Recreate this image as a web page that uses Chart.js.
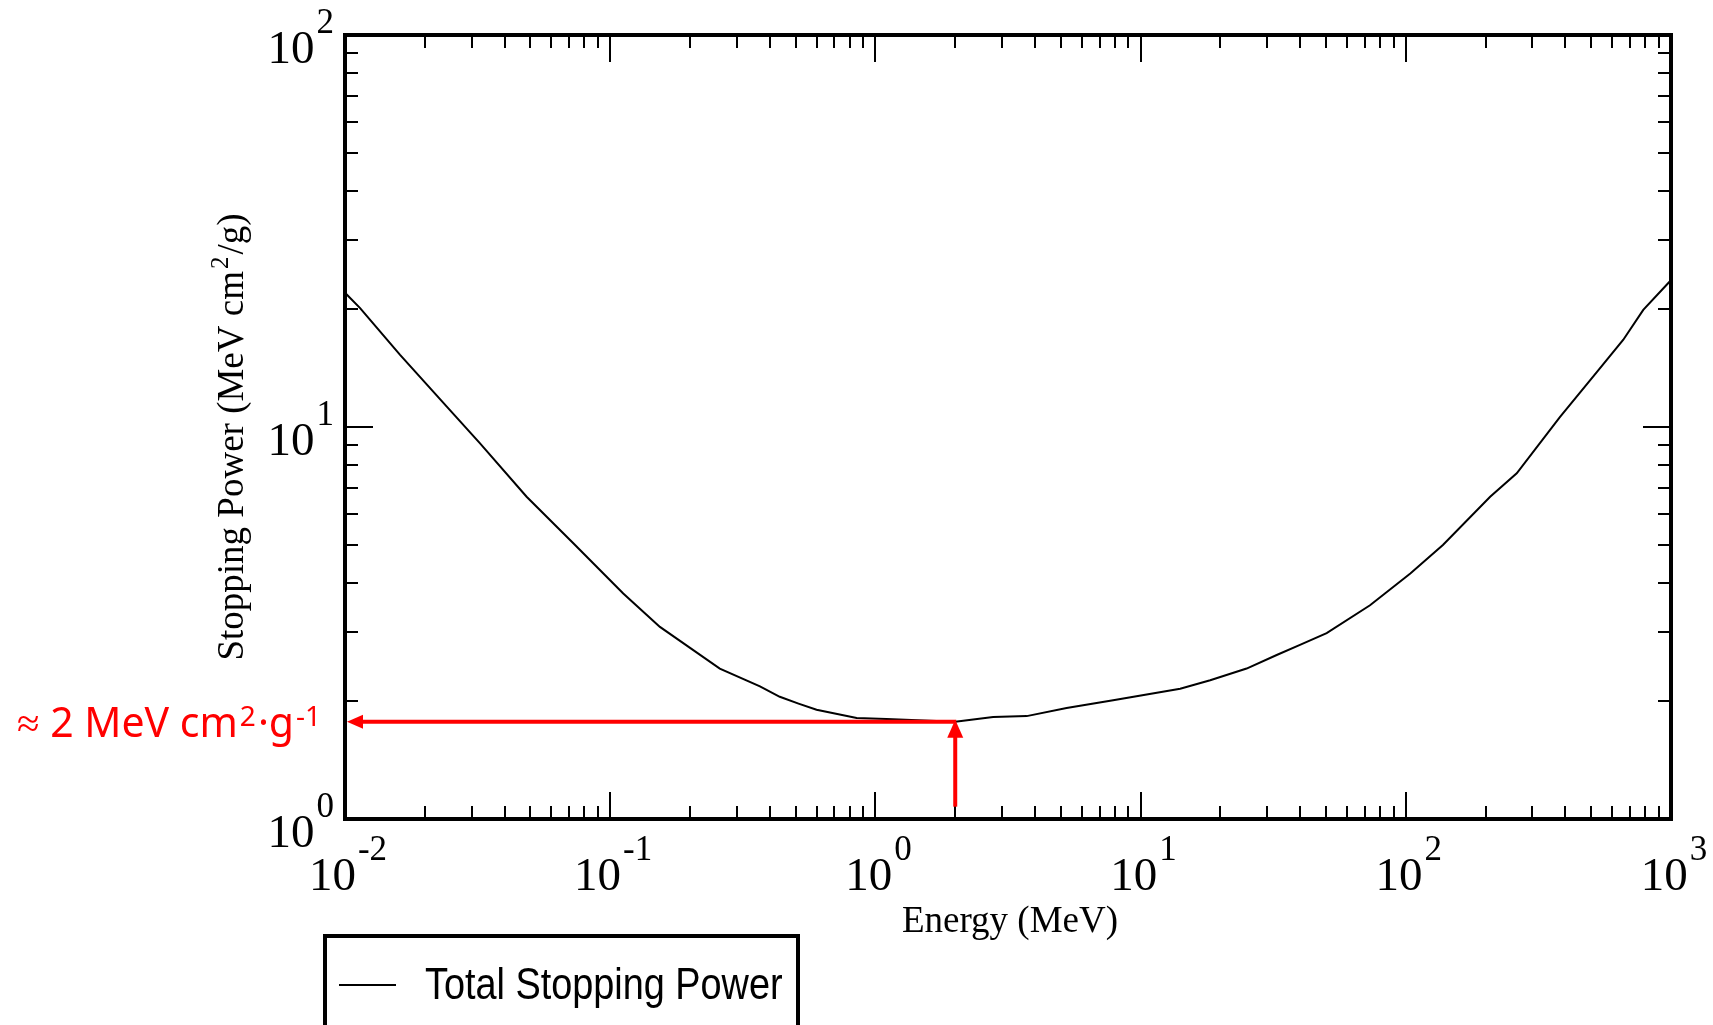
<!DOCTYPE html>
<html>
<head>
<meta charset="utf-8">
<script src="https://cdn.jsdelivr.net/npm/chart.js@4/dist/chart.umd.min.js"></script>
<style>
  html,body{margin:0;padding:0;background:#fff;}
  canvas{display:block;}
</style>
</head>
<body>
<canvas id="chart" width="1713" height="1025"></canvas>
<script>
// values
var energy=[0.01,0.0114,0.0161,0.0242,0.0323,0.0484,0.0726,0.112,0.154,0.259,0.367,0.436,0.513,0.600,0.850,1.10,2.0,2.78,3.72,5.26,7.88,14.1,18.3,25.1,32.6,39.9,50.3,73.3,104,138,208,262,381,525,661,786,977,1000]
var stoppingPower=[22.0,20.1,15.3,11.27,9.08,6.64,5.05,3.76,3.09,2.42,2.18,2.05,1.97,1.90,1.81,1.80,1.77,1.82,1.83,1.92,2.01,2.15,2.26,2.42,2.62,2.78,2.98,3.51,4.23,5.00,6.64,7.62,10.6,13.8,16.7,19.9,23.3,23.7]
var xDecades=[-2,-1,0,1,2,3]
var yDecades=[0,1,2]
var seriesLabel="Total Stopping Power"
var xTitle="Energy (MeV)"
var yTitle=["Stopping Power (MeV cm","2","/g)"]
var noteEnergy=2.0
var notePower=1.77
var noteStart=1.075
var noteText=["≈ 2 MeV cm","2","·g","-1"]

var points=energy.map(function(e,i){return {x:e,y:stoppingPower[i]}})

function line(ctx,x1,y1,x2,y2){
  ctx.beginPath(); ctx.moveTo(x1,y1); ctx.lineTo(x2,y2); ctx.stroke()
}

function power(ctx,exp,x,base,align){
  ctx.font='47px "Liberation Serif"'
  var w1=ctx.measureText('10').width
  ctx.font='35px "Liberation Serif"'
  var w2=ctx.measureText(exp).width
  var w=w1+w2+2
  var left=align=='center'?x-w/2:x-w
  ctx.font='47px "Liberation Serif"'
  ctx.fillText('10',left,base)
  ctx.font='35px "Liberation Serif"'
  ctx.fillText(exp,left+w1+2,base-30)
}

var frame={
  id:'frame',
  afterDraw:function(chart){
    var ctx=chart.ctx, a=chart.chartArea, xs=chart.scales.x, ys=chart.scales.y
    ctx.save()
    ctx.strokeStyle='#000'
    ctx.fillStyle='#000'
    ctx.lineWidth=2
    ctx.textAlign='left'
    ctx.textBaseline='alphabetic'

    // inward ticks on all four sides
    xDecades.forEach(function(d,i){
      for(var k=1;k<10;k++){
        if(k>1 && i==xDecades.length-1) break
        var px=Math.round(xs.getPixelForValue(k*Math.pow(10,d)))
        var len=k==1?27:13
        line(ctx,px,a.bottom,px,a.bottom-len)
        line(ctx,px,a.top,px,a.top+len)
      }
      power(ctx,String(d),xs.getPixelForValue(Math.pow(10,d))+3,890,'center')
    })
    yDecades.forEach(function(d,i){
      for(var k=1;k<10;k++){
        if(k>1 && i==yDecades.length-1) break
        var py=Math.round(ys.getPixelForValue(k*Math.pow(10,d)))
        var len=k==1?28:13
        line(ctx,a.left,py,a.left+len,py)
        line(ctx,a.right,py,a.right-len,py)
      }
      power(ctx,String(d),334,ys.getPixelForValue(Math.pow(10,d))+28,'right')
    })

    ctx.lineWidth=4
    ctx.strokeRect(a.left,a.top,a.right-a.left,a.bottom-a.top)

    // axis titles
    ctx.font='37px "Liberation Serif"'
    ctx.textAlign='center'
    ctx.fillText(xTitle,(a.left+a.right)/2+2,932)
    ctx.textAlign='left'
    ctx.save()
    ctx.translate(243,437)
    ctx.rotate(-Math.PI/2)
    ctx.font='37px "Liberation Serif"'
    var t1=ctx.measureText(yTitle[0]).width, t3=ctx.measureText(yTitle[2]).width
    ctx.font='25px "Liberation Serif"'
    var t2=ctx.measureText(yTitle[1]).width+4
    var sx=-(t1+t2+t3)/2
    ctx.font='37px "Liberation Serif"'
    ctx.fillText(yTitle[0],sx,0)
    ctx.fillText(yTitle[2],sx+t1+t2,0)
    ctx.font='25px "Liberation Serif"'
    ctx.fillText(yTitle[1],sx+t1+2,-15)
    ctx.restore()

    // legend box
    var ds=chart.data.datasets[0]
    ctx.lineWidth=4
    ctx.strokeRect(325,936,473,120)
    ctx.strokeStyle=ds.borderColor
    ctx.lineWidth=2
    line(ctx,339,985,396,985)
    ctx.save()
    ctx.translate(425,999)
    ctx.scale(0.86,1)
    ctx.font='44px "Liberation Sans"'
    ctx.fillText(ds.label,0,0)
    ctx.restore()

    // red note
    var px=xs.getPixelForValue(noteEnergy), py=ys.getPixelForValue(notePower), pb=ys.getPixelForValue(noteStart)
    ctx.strokeStyle='#ff0000'
    ctx.fillStyle='#ff0000'
    ctx.lineWidth=4
    line(ctx,px+1,py,a.left+16,py)
    ctx.beginPath()
    ctx.moveTo(a.left+2,py); ctx.lineTo(a.left+18,py-7); ctx.lineTo(a.left+18,py+7); ctx.closePath(); ctx.fill()
    line(ctx,px,pb,px,py+14)
    ctx.beginPath()
    ctx.moveTo(px,py-2); ctx.lineTo(px-8,py+16); ctx.lineTo(px+8,py+16); ctx.closePath(); ctx.fill()

    var x=17, base=737
    ctx.font='41px "Noto Sans"'
    ctx.fillText(noteText[0],x,base); x+=ctx.measureText(noteText[0]).width+2
    ctx.font='28px "Noto Sans"'
    ctx.fillText(noteText[1],x,base-11); x+=ctx.measureText(noteText[1]).width+2
    ctx.font='41px "Noto Sans"'
    ctx.fillText(noteText[2],x,base); x+=ctx.measureText(noteText[2]).width+2
    ctx.font='28px "Noto Sans"'
    ctx.fillText(noteText[3],x,base-11)
    ctx.restore()
  }
}

var mychart=document.getElementById("chart").getContext('2d')
var chart=new Chart(mychart,{
  type:'line',
  data:{
    datasets:[
      {
        label:seriesLabel,
        data:points,
        borderColor:"#000000",
        borderWidth:2,
        pointRadius:0,
        tension:0,
        fill:false
      }
    ]
  },
  options:{
    responsive:false,
    animation:false,
    layout:{padding:{top:35,right:42,left:0,bottom:0}},
    plugins:{legend:{display:false},tooltip:{enabled:false}},
    scales:{
      x:{
        type:'logarithmic',min:0.01,max:1000,
        ticks:{display:false},grid:{display:false},border:{display:false},
        afterFit:function(s){s.height=206}
      },
      y:{
        type:'logarithmic',min:1,max:100,
        ticks:{display:false},grid:{display:false},border:{display:false},
        afterFit:function(s){s.width=345}
      }
    }
  },
  plugins:[frame]
})
</script>
</body>
</html>
